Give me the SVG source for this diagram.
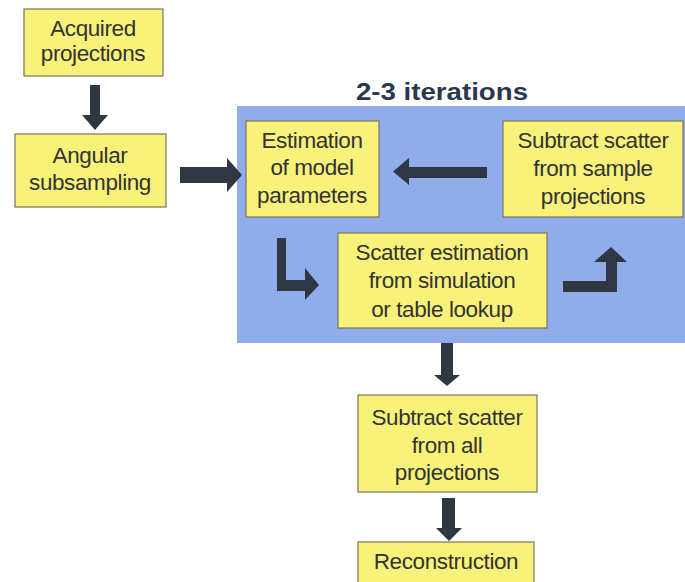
<svg xmlns="http://www.w3.org/2000/svg" width="685" height="582" viewBox="0 0 685 582">
<style>
.box{fill:#f8f27a;stroke:#7a7656;stroke-width:1.2}
.t{font-family:"Liberation Sans",Arial,sans-serif;font-size:22.5px;fill:#333;text-anchor:middle;letter-spacing:-0.4px}
.arr{fill:#2f3842}
</style>
<rect x="0" y="0" width="685" height="582" fill="#ffffff"/>
<rect id="panel" x="237" y="106" width="448" height="237" fill="#90acea"/>
<text x="442" y="100" font-family="Liberation Sans,Arial,sans-serif" font-size="23" font-weight="bold" fill="#2b3650" text-anchor="middle" textLength="172" lengthAdjust="spacingAndGlyphs">2-3 iterations</text>
<g id="acquired">
<rect class="box" x="24" y="9" width="139" height="67"/>
<text class="t" x="93" y="36">Acquired</text>
<text class="t" x="93" y="61">projections</text>
</g>
<g id="angular">
<rect class="box" x="15" y="134" width="151" height="73"/>
<text class="t" x="90" y="163">Angular</text>
<text class="t" x="90" y="190">subsampling</text>
</g>
<g id="estimation">
<rect class="box" x="246" y="121" width="133" height="96"/>
<text class="t" x="312" y="148">Estimation</text>
<text class="t" x="312" y="175">of model</text>
<text class="t" x="312" y="203">parameters</text>
</g>
<g id="subtract_sample">
<rect class="box" x="503" y="121" width="180" height="96"/>
<text class="t" x="593" y="148">Subtract scatter</text>
<text class="t" x="593" y="176">from sample</text>
<text class="t" x="593" y="204">projections</text>
</g>
<g id="scatter_est">
<rect class="box" x="338" y="233" width="209" height="95"/>
<text class="t" x="442" y="260">Scatter estimation</text>
<text class="t" x="442" y="288">from simulation</text>
<text class="t" x="442" y="317">or table lookup</text>
</g>
<g id="subtract_all">
<rect class="box" x="358" y="395" width="179" height="97"/>
<text class="t" x="447" y="425">Subtract scatter</text>
<text class="t" x="447" y="453">from all</text>
<text class="t" x="447" y="480">projections</text>
</g>
<g id="reconstruction">
<rect class="box" x="358" y="542" width="176" height="45"/>
<text class="t" x="446" y="569">Reconstruction</text>
</g>
<g id="connectors">
<polygon class="arr" points="90,85 100,85 100,115 108,115 95,130 82,115 90,115"/>
<polygon class="arr" points="180,167 227,167 227,158 242,175 227,192 227,183 180,183"/>
<polygon class="arr" points="487,167 487,178 409,178 409,185 393,171.5 409,158 409,167"/>
<polygon class="arr" points="277,238 286,238 286,280 305,280 305,268 319,285 305,300 305,291 277,291"/>
<polygon class="arr" points="563,281 606,281 606,262 594,262 611,247 627,262 617,262 617,292 563,292"/>
<polygon class="arr" points="441,343 453,343 453,375 460,375 447,386 434,375 441,375"/>
<polygon class="arr" points="442,498 455,498 455,528 462,528 449,541 436,528 442,528"/>
</g>
</svg>
